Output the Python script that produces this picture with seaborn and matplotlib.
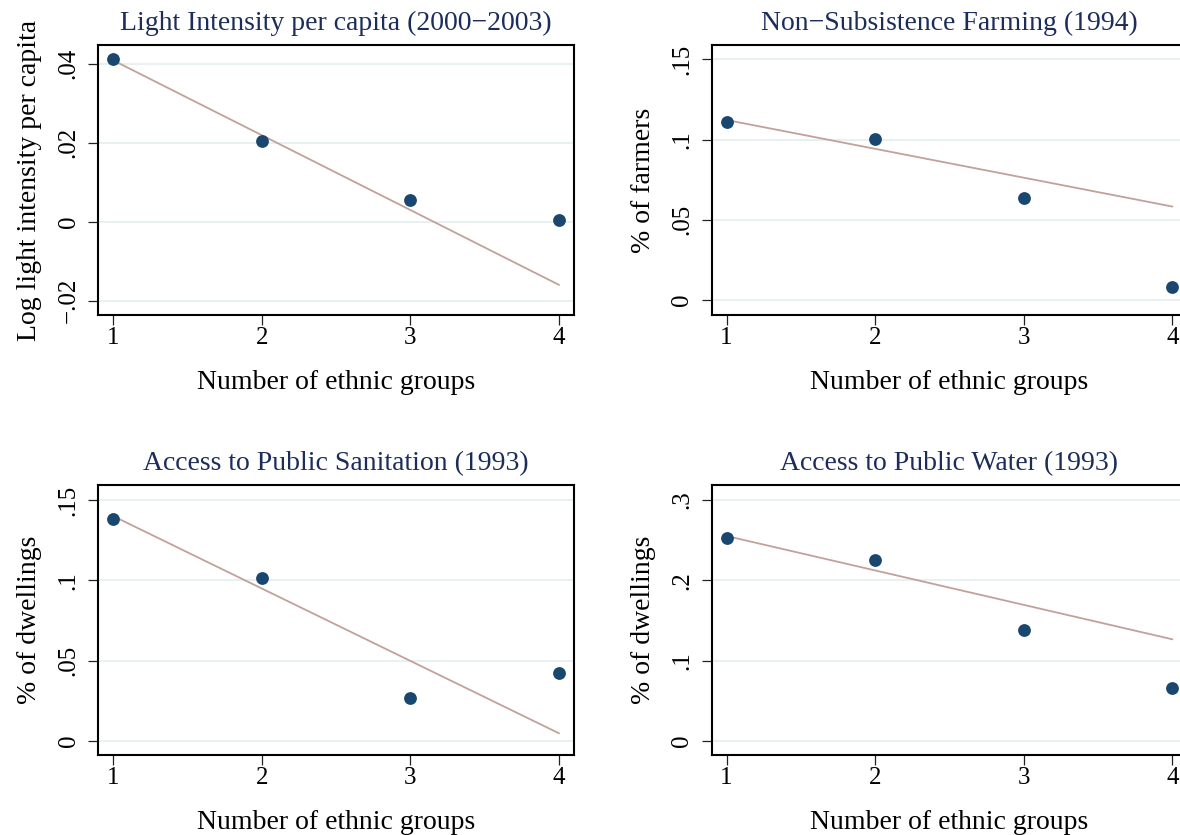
import matplotlib
matplotlib.use("Agg")
import matplotlib.pyplot as plt
import seaborn as sns
import pandas as pd

# Number of ethnic groups (x axis shared by every panel)
groups = [1, 2, 3, 4]

# Group means for each outcome
light_means = [0.0411, 0.0204, 0.0054, 0.0004]
farming_means = [0.1108, 0.1002, 0.0635, 0.0079]
sanitation_means = [0.1382, 0.1016, 0.0264, 0.0420]
water_means = [0.2524, 0.2253, 0.1380, 0.0661]

# Fitted regression line, evaluated at the first and last group
fit_x = [1, 4]
light_fit = [0.0408, -0.0160]
farming_fit = [0.1122, 0.0582]
sanitation_fit = [0.1400, 0.0046]
water_fit = [0.2552, 0.1264]

# Titles, axis labels and ticks
titles = [
    "Light Intensity per capita (2000\u22122003)",
    "Non\u2212Subsistence Farming (1994)",
    "Access to Public Sanitation (1993)",
    "Access to Public Water (1993)",
]
ylabels = ["Log light intensity per capita", "% of farmers",
           "% of dwellings", "% of dwellings"]
xlabel = "Number of ethnic groups"
light_ticks = [-0.02, 0, 0.02, 0.04]
light_ticklabels = ["\u2212.02", "0", ".02", ".04"]
share_ticks = [0, 0.05, 0.1, 0.15]
share_ticklabels = ["0", ".05", ".1", ".15"]
water_ticks = [0, 0.1, 0.2, 0.3]
water_ticklabels = ["0", ".1", ".2", ".3"]

sns.set_theme(style="white")
plt.rcParams["font.family"] = ["Liberation Serif", "DejaVu Serif"]
plt.rcParams["axes.unicode_minus"] = True

POINT = "#1a476f"
FIT = "#c2a19a"
TITLE = "#1c2d5a"
GRID = "#e8f0f2"

fig = plt.figure(figsize=(11.8, 8.35), dpi=100)

W, H = 0.4031, 0.3234
positions = [
    (0.0833, 0.6228),
    (0.6031, 0.6228),
    (0.0833, 0.0958),
    (0.6031, 0.0958),
]
means = [light_means, farming_means, sanitation_means, water_means]
fits = [light_fit, farming_fit, sanitation_fit, water_fit]
ticks = [(light_ticks, light_ticklabels), (share_ticks, share_ticklabels),
         (share_ticks, share_ticklabels), (water_ticks, water_ticklabels)]
ylims = [(-0.0236, 0.0447), (-0.0094, 0.1590),
         (-0.0089, 0.1594), (-0.0178, 0.3188)]

for i in range(4):
    ax = fig.add_axes([positions[i][0], positions[i][1], W, H])
    pts = pd.DataFrame({"groups": groups, "value": means[i]})
    line = pd.DataFrame({"groups": fit_x, "value": fits[i]})

    ax.set_axisbelow(True)
    tk, tl = ticks[i]
    for t in tk:
        ax.axhline(t, color=GRID, lw=1.4, zorder=0)

    sns.scatterplot(data=pts, x="groups", y="value", ax=ax, color=POINT,
                    s=85, edgecolor=POINT, linewidth=0, zorder=3)
    sns.lineplot(data=line, x="groups", y="value", ax=ax, color=FIT,
                 lw=1.3, zorder=2)

    ax.set_xlim(0.9, 4.1)
    ax.set_ylim(*ylims[i])
    ax.set_xticks(groups)
    ax.set_xticklabels([str(g) for g in groups])
    ax.set_yticks(tk)
    ax.set_yticklabels(tl, rotation=90, va="center")

    ax.tick_params(axis="both", which="major", direction="out", length=7,
                   width=0.9, color="#222222", labelsize=18,
                   labelcolor="black", bottom=True, left=True)
    ax.tick_params(axis="x", pad=1.5)
    ax.tick_params(axis="y", pad=6.5)

    for sp in ax.spines.values():
        sp.set_visible(True)
        sp.set_color("black")
        sp.set_linewidth(1.5)

    ax.set_title(titles[i], fontsize=20, color=TITLE, pad=10.5)
    ax.set_xlabel(xlabel, fontsize=20, color="black", labelpad=15.5)
    ax.set_ylabel(ylabels[i], fontsize=20, color="black", labelpad=11)
    ax.grid(False)

fig.savefig("out.png", dpi=100)
